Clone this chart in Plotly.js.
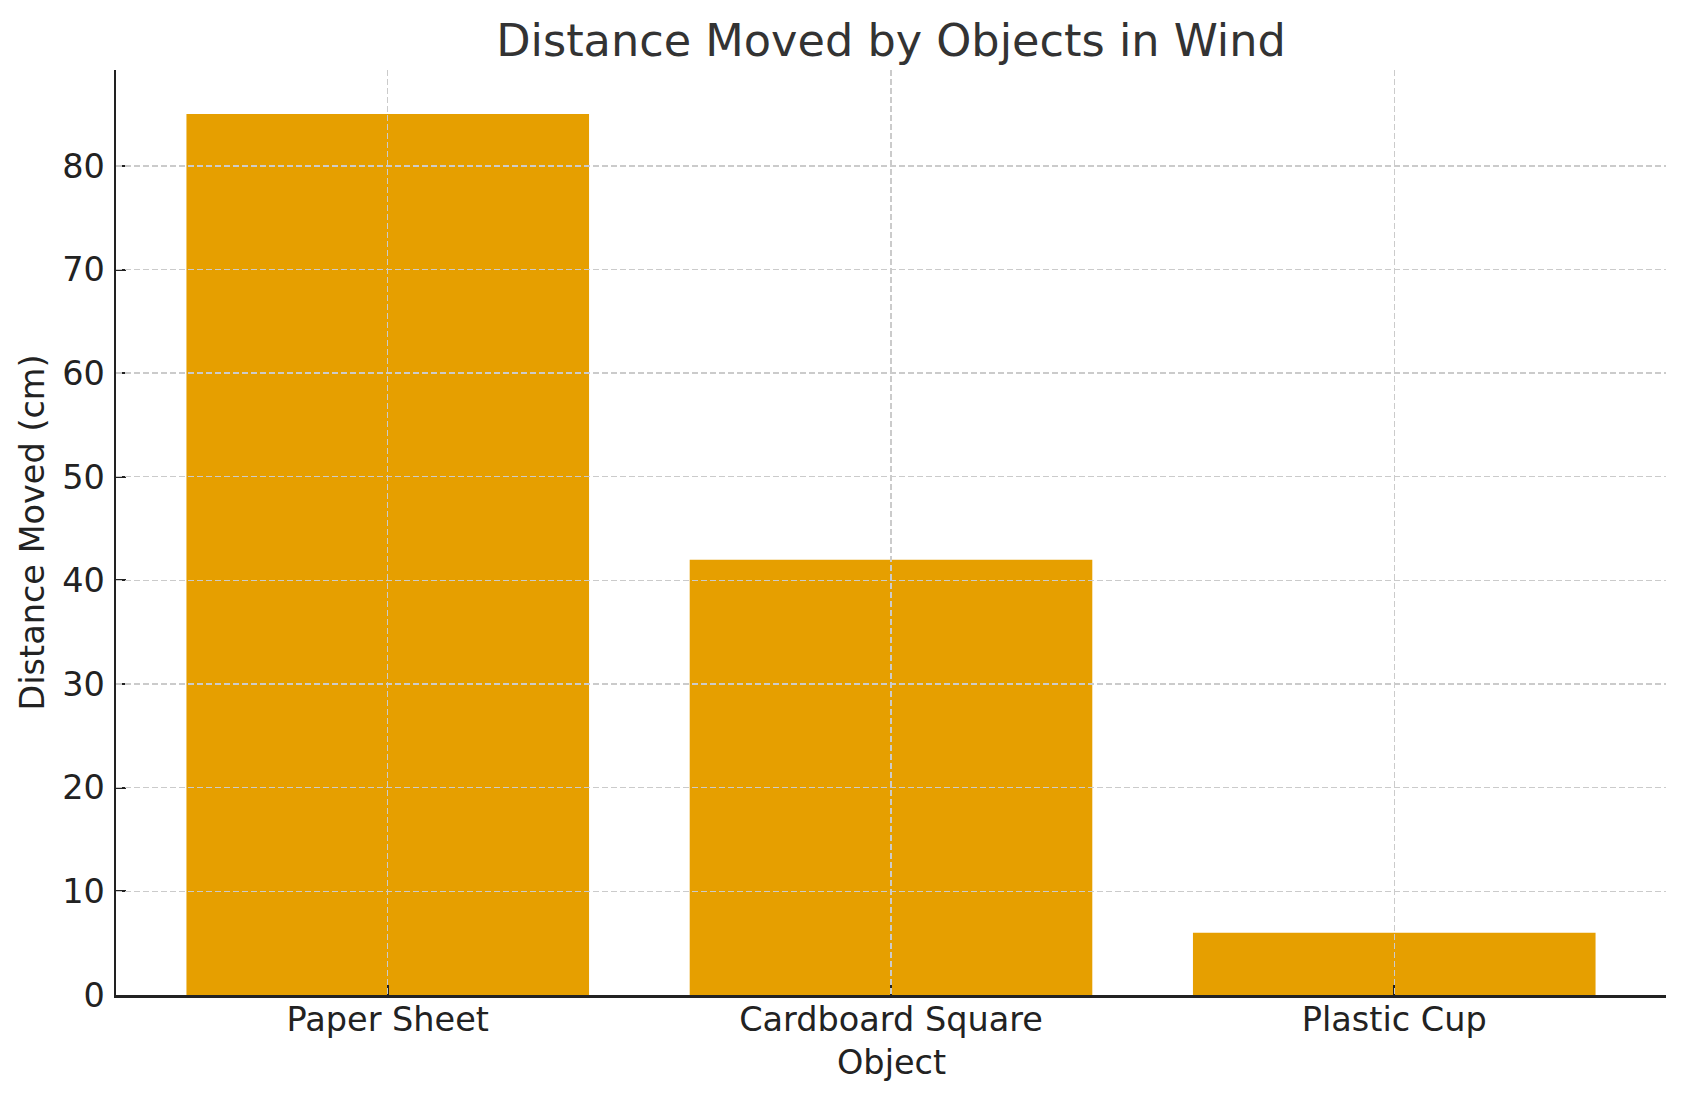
<!DOCTYPE html>
<html>
<head>
<meta charset="utf-8">
<script src="https://cdn.plot.ly/plotly-3.0.1.min.js"></script>
<style>
  html, body { margin: 0; padding: 0; background: #fff; }
  #chart { width: 1686px; height: 1101px; }
</style>
</head>
<body>
<div id="chart"></div>
<script>
// data
var objects = ['Paper Sheet', 'Cardboard Square', 'Plastic Cup'];
var distances = [85, 42, 6];
var yTicks = [0, 10, 20, 30, 40, 50, 60, 70, 80];

var barColor = '#E69F00';
var font = 'DejaVu Sans, sans-serif';
var labelSize = 33.5;
var xRange = [-0.54, objects.length - 1 + 0.54];
var yRange = [0, Math.max.apply(null, distances) * 1.05];

var bars = {
    type: 'bar',
    x: objects,
    y: distances,
    width: 0.8,
    marker: {color: barColor, line: {width: 0}},
    hoverinfo: 'x+y'
};

// invisible copy on a second subplot so its dashed grid sits above the bars
var gridCarrier = {
    type: 'scatter',
    mode: 'markers',
    x: objects,
    y: distances,
    xaxis: 'x2',
    yaxis: 'y2',
    marker: {opacity: 0},
    hoverinfo: 'skip',
    showlegend: false
};

var gridStyle = {
    showgrid: true,
    gridcolor: '#cbcbcb',
    gridwidth: 1.3,
    griddash: '6px,3px'
};

var layout = {
    width: 1686,
    height: 1101,
    margin: {l: 116, r: 20, t: 70, b: 106},
    paper_bgcolor: '#ffffff',
    plot_bgcolor: 'rgba(0,0,0,0)',
    showlegend: false,
    font: {family: font, size: labelSize, color: '#222222'},
    title: {
        text: 'Distance Moved by Objects in Wind',
        font: {family: font, size: 44.6, color: '#333333'},
        x: 0.5, xref: 'paper', xanchor: 'center',
        y: 1 - 40 / 1101, yref: 'container', yanchor: 'middle'
    },
    xaxis: {
        type: 'category',
        range: xRange,
        showgrid: false,
        zeroline: false,
        showline: true,
        linecolor: '#222222',
        linewidth: 2.5,
        ticks: 'inside',
        ticklen: 10,
        tickwidth: 2,
        tickcolor: '#222222',
        tickfont: {family: font, size: labelSize, color: '#222222'},
        ticklabelstandoff: -7,
        layer: 'above traces',
        fixedrange: true
    },
    yaxis: {
        range: yRange,
        tickvals: yTicks,
        showgrid: false,
        zeroline: false,
        showline: true,
        linecolor: '#222222',
        linewidth: 2.5,
        ticks: 'inside',
        ticklen: 10,
        tickwidth: 2,
        tickcolor: '#222222',
        tickfont: {family: font, size: labelSize, color: '#222222'},
        ticklabelstandoff: 2,
        layer: 'above traces',
        fixedrange: true
    },
    xaxis2: Object.assign({
        type: 'category',
        anchor: 'y2',
        range: xRange,
        showticklabels: false,
        ticks: '',
        zeroline: false,
        showline: false,
        fixedrange: true
    }, gridStyle),
    yaxis2: Object.assign({
        anchor: 'x2',
        range: yRange,
        tickvals: yTicks.slice(1),
        showticklabels: false,
        ticks: '',
        zeroline: false,
        showline: false,
        fixedrange: true
    }, gridStyle),
    annotations: [
        {
            text: 'Object',
            xref: 'paper', yref: 'paper',
            x: 0.5, y: -67 / 925,
            xanchor: 'center', yanchor: 'middle',
            showarrow: false,
            font: {family: font, size: labelSize, color: '#222222'}
        },
        {
            text: 'Distance Moved (cm)',
            xref: 'paper', yref: 'paper',
            x: (32 - 116) / 1550, y: 0.5,
            xanchor: 'center', yanchor: 'middle',
            textangle: -90,
            showarrow: false,
            font: {family: font, size: labelSize, color: '#222222'}
        }
    ]
};

Plotly.newPlot('chart', [bars, gridCarrier], layout, {displayModeBar: false, staticPlot: true});
</script>
</body>
</html>
